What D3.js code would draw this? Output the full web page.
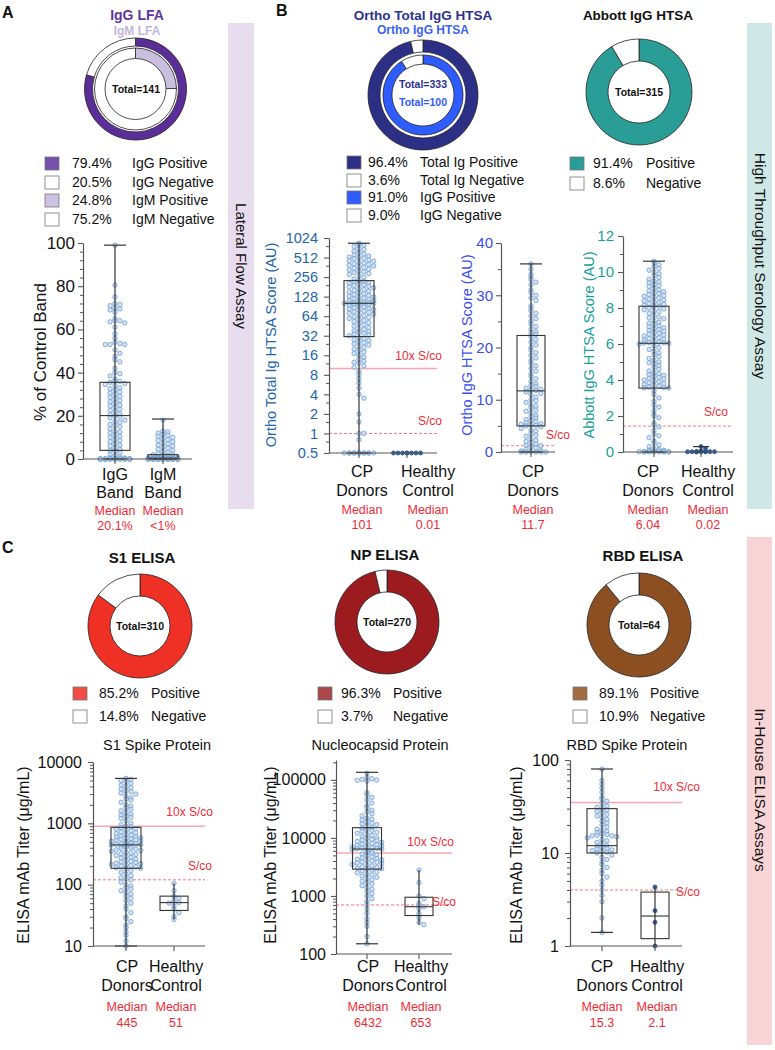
<!DOCTYPE html>
<html lang="en">
<head>
<meta charset="UTF-8">
<title>Antibody assay comparison</title>
<style>
    body { margin: 0; background: #fff; }
    text { font-family: "Liberation Sans", Arial, sans-serif; }
</style>
</head>
<body>
<svg id="fig" width="775" height="1050"></svg>
<script src="https://d3js.org/d3.v7.min.js"></script>
<script>
// ---- donut shares (%) ----
const lfaIgG = [79.4, 20.5];
const lfaIgM = [24.8, 75.2];
const orthoTotal = [96.4, 3.6];
const orthoIgG = [91.0, 9.0];
const abbottIgG = [91.4, 8.6];
const s1Elisa = [85.2, 14.8];
const npElisa = [96.3, 3.7];
const rbdElisa = [89.1, 10.9];

// ---- categories / medians ----
const lfaCats = ['IgG Band', 'IgM Band'];
const lfaMedians = ['20.1%', '<1%'];
const htsCats = ['CP Donors', 'Healthy Control'];
const orthoTotalMedians = ['101', '0.01'];
const orthoIgGCats = ['CP Donors'];
const orthoIgGMedians = ['11.7'];
const abbottMedians = ['6.04', '0.02'];
const s1Medians = ['445', '51'];
const npMedians = ['6432', '653'];
const rbdMedians = ['15.3', '2.1'];

// box stats [min, q1, median, q3, max]
const lfaBoxes = [[0, 4, 20.1, 35.5, 99], [0, 0, 0.4, 2, 18.5]];
const orthoTotalBoxes = [[0.5, 31, 101, 226, 850], null];
const orthoIgGBoxes = [[0, 5, 11.7, 22.3, 36]];
const abbottBoxes = [[0, 3.55, 6.04, 8.1, 10.6], [0, 0, 0.02, 0.04, 0.3]];
const s1Boxes = [[10, 185, 445, 860, 5400], [27, 38, 51, 65, 105]];
const npBoxes = [[150, 2900, 6432, 15000, 135000], [320, 460, 653, 950, 2800]];
const rbdBoxes = [[1.4, 10, 12, 30, 80], [1.0, 1.2, 2.1, 3.8, 4.3]];

// ---- individual samples (estimated) ----
const lfaIgGPts = [99, 80.5, 75, 72, 71.5, 71, 70, 69.5, 69, 68, 65, 64, 64, 63.5, 63, 61, 58, 56, 54, 53.5,
    53, 53, 53, 50.5, 49, 47.5, 46, 45, 42, 40, 39.5, 38.5, 37, 36, 36, 35.5, 35, 34.5, 34, 33,
    32.5, 32, 31, 30.5, 30, 29, 28.5, 28, 27, 26.5, 26, 25, 24.5, 24, 23, 22.5, 22, 21, 20.5,
    20, 19.5, 19, 18, 17.5, 17, 16, 15.5, 15, 14, 13, 12.5, 12, 11, 10.5, 10, 9, 8.5, 8, 7, 6.5, 6, 5, 4.5, 4, 3.5, 3,
    2, 1.5, 1, 0.5, 0.5, 0, 0, 0, 0, 0, 0, 0, 0, 0, 0, 0, 0, 0, 0, 0, 0, 0, 0, 0, 0, 0, 0, 0, 0, 0];
const lfaIgMPts = [18, 13, 12.5, 12, 11.5, 11, 10.5, 10, 9.5, 9, 8.5, 8, 7.5, 7, 6.5, 6, 5.5, 5, 4.5, 4, 3.5, 3, 2.5,
    2, 2, 1.5, 1.5, 1, 1, 1, 0.8, 0.6, 0.5, 0.5, 0.4, 0.3, 0.2, 0.2, 0.1, 0.1,
    0, 0, 0, 0, 0, 0, 0, 0, 0, 0, 0, 0, 0, 0, 0, 0, 0, 0, 0, 0, 0, 0, 0, 0, 0, 0, 0, 0, 0, 0,
    0, 0, 0, 0, 0, 0, 0, 0, 0, 0];
const orthoTotalCP = [850, 820, 790, 760, 700, 680, 640, 600, 580, 560, 540, 520, 510, 500, 490, 470, 460, 450, 430, 420,
    410, 400, 390, 380, 370, 360, 350, 340, 330, 320, 310, 300, 290, 280, 270, 255, 240,
    226, 220, 215, 210, 205, 200, 195, 190, 185, 180, 175, 170, 165, 160, 155, 150, 146, 142, 138, 134,
    130, 127, 124, 121, 118, 115, 112, 110, 108, 106, 104, 103, 102, 101, 101, 100, 99,
    97, 95, 93, 91, 89, 87, 85, 83, 81, 79, 77, 75, 73, 71, 69, 67, 65, 63, 61, 59, 57, 55, 53, 51, 49, 47,
    45, 43, 41, 40, 38, 37, 36, 35, 34, 33, 32,
    30, 29, 28, 27, 26, 25, 24, 23, 22, 21, 20, 19, 18, 17, 16, 15, 14, 13, 12.5, 12, 11, 10.5, 9, 8, 7, 6, 5, 4,
    3.5, 2, 1.5, 1, 1, 0.8, 0.5, 0.5, 0.5, 0.5, 0.5, 0.5, 0.5, 0.5, 0.5, 0.5, 0.5, 0.5];
const orthoTotalHC = [0.5, 0.5, 0.5, 0.5, 0.5, 0.5, 0.5, 0.5];
const orthoIgGCP = [36, 35, 34, 33.5, 33, 32.5, 32, 31, 30.5, 30, 29.5, 29, 28, 27.5, 27, 26.5, 26, 25.5, 25, 24.5,
    24, 23.5, 23, 22.8, 22.5, 22, 21.5, 21, 20.5, 20, 19.5, 19, 18.5, 18, 17.5, 17, 16.5, 16, 15.5, 15,
    14.5, 14, 13.5, 13, 12.8, 12.5, 12.2, 12, 11.9, 11.8, 11.5, 11.2, 11, 10.5, 10, 9.8, 9.5, 9, 8.8, 8.5,
    8, 7.8, 7.5, 7, 6.8, 6.5, 6.2, 6, 5.8, 5.6, 5.4, 5.3, 5.2, 5.1, 5, 4.8, 4.5, 4.2, 4, 3.5,
    3.2, 3, 2.5, 2.2, 2, 1.8, 1.5, 1.3, 1.2, 1, 0.8, 0.5, 0.3, 0.2, 0.1, 0, 0, 0, 0, 0];
const abbottCP = [10.6, 10.5, 10.4, 10.3, 10.2, 10.1, 10, 9.9, 9.8, 9.7, 9.6, 9.5, 9.45, 9.4, 9.3, 9.25, 9.2, 9.1, 9.0,
    8.95, 8.9, 8.85, 8.8, 8.75, 8.7, 8.65, 8.6, 8.55, 8.5, 8.45, 8.4, 8.35, 8.3, 8.25, 8.2, 8.15, 8.1, 8.1,
    8.0, 7.95, 7.9, 7.85, 7.8, 7.7, 7.6, 7.5, 7.45, 7.4, 7.3, 7.2, 7.15, 7.1, 7.0, 6.95, 6.9, 6.85, 6.8,
    6.75, 6.7, 6.65, 6.6, 6.55, 6.5, 6.45, 6.4, 6.35, 6.3, 6.25, 6.2, 6.15, 6.1, 6.08, 6.06, 6.05, 6.04,
    6.0, 5.9, 5.8, 5.7, 5.6, 5.5, 5.4, 5.3, 5.2, 5.1, 5.0, 4.95, 4.9, 4.8, 4.7, 4.6, 4.5, 4.4, 4.35, 4.3,
    4.25, 4.2, 4.15, 4.1, 4.05, 4.0, 3.95, 3.9, 3.85, 3.8, 3.75, 3.7, 3.65, 3.6, 3.58, 3.56, 3.55,
    3.4, 3.2, 3.0, 2.8, 2.6, 2.5, 2.3, 2.1, 2.0, 1.9, 1.6, 1.5, 1.4, 1.2, 1.0, 0.9, 0.8, 0.6, 0.5, 0.4,
    0.3, 0.2, 0.15, 0.1, 0.1, 0.05, 0.05, 0.05, 0.02, 0.02, 0.02, 0.02, 0.01, 0.01, 0.01, 0.01, 0, 0];
const abbottHC = [0.3, 0.2, 0.05, 0.04, 0.03, 0.02, 0.02, 0.02, 0.01, 0.01, 0.01, 0];
const s1CP = [5400, 5200, 5000, 4800, 4500, 4200, 4000, 3800, 3600, 3400, 3300, 3100, 3000, 2800, 2600, 2500,
    2400, 2200, 2000, 1900, 1800, 1700, 1600, 1500, 1400, 1350, 1300, 1250, 1200, 1100, 1000, 950,
    900, 880, 850, 820, 800, 780, 750, 720, 700, 680, 660, 640, 620, 600, 590, 580, 570, 560, 550, 540,
    530, 520, 510, 500, 490, 480, 470, 465, 460, 455, 450, 445,
    440, 430, 420, 410, 400, 390, 380, 370, 360, 350, 340, 330, 320, 310, 300, 290, 280, 270, 260, 250,
    240, 235, 230, 225, 220, 215, 210, 205, 200, 195, 190, 185,
    180, 170, 160, 150, 140, 130, 125, 120, 110, 100, 95, 90, 85, 80, 75, 70, 65, 60, 55, 50,
    45, 40, 35, 30, 28, 25, 22, 20, 17, 15, 12, 10];
const s1HC = [105, 80, 65, 60, 55, 51, 50, 45, 40, 35, 30, 27];
const npCP = [130000, 110000, 105000, 102000, 100000, 98000, 95000, 60000, 55000, 50000, 45000, 40000, 36000, 33000,
    30000, 28000, 26000, 24000, 22000, 21000, 20000, 19000, 18000, 17500, 17000, 16000, 15000, 14500,
    14000, 13500, 13000, 12500, 12000, 11500, 11000, 10500, 10000, 9800, 9500, 9200, 9000, 8700,
    8400, 8200, 8000, 7800, 7600, 7400, 7200, 7000, 6900, 6800, 6700, 6600, 6500, 6432,
    6300, 6100, 5900, 5700, 5500, 5300, 5100, 4900, 4700, 4500, 4400, 4300, 4200, 4100, 4000, 3900,
    3800, 3700, 3600, 3500, 3400, 3300, 3200, 3100, 3000, 2950, 2900, 2800,
    2700, 2600, 2500, 2400, 2300, 2200, 2100, 2000, 1900, 1800, 1700, 1600, 1500, 1400, 1300, 1200,
    1100, 1000, 900, 800, 700, 600, 500, 400, 350, 300, 200, 150];
const npHC = [2800, 1700, 1000, 900, 750, 680, 653, 600, 500, 420, 350, 320];
const rbdCP = [80, 60, 55, 50, 45, 40, 38, 36, 34, 32, 31, 30, 29, 28, 27, 26, 25, 24, 23, 22, 21, 20, 19, 18,
    17.5, 17, 16.5, 16, 15.8, 15.5, 15.3, 15.3, 15, 14.5, 14, 13.5, 13, 12.5, 12, 11.8, 11.5, 11.2, 11,
    10.8, 10.6, 10.4, 10.2, 10, 9.5, 9, 8.5, 8, 7.5, 7, 6.5, 6, 5.5, 5, 4.5, 4, 3.5, 3, 2, 1.4];
const rbdHC = [4.3, 2.4, 1.8, 1.0];

// cut-offs
const orthoTotalCut = [10, 1];
const orthoIgGCut = [1.2];
const abbottCut = [1.44];
const s1Cut = [900, 120];
const npCut = [5500, 700];
const rbdCut = [35, 4];

// ---------------------------------------------------------------------
const svg = d3.select('#fig');
const FONT = '"Liberation Sans", Arial, sans-serif';

function txt(x, y, s, opt = {}) {
    return svg.append('text').attr('x', x).attr('y', y).text(s)
        .attr('font-size', opt.size || 14)
        .attr('font-weight', opt.bold ? 'bold' : 'normal')
        .attr('fill', opt.color || '#111')
        .attr('text-anchor', opt.anchor || 'middle');
}

function vtxt(x, y, s, rot, opt = {}) {
    return svg.append('text').attr('transform', `translate(${x},${y}) rotate(${rot})`)
        .text(s).attr('text-anchor', 'middle')
        .attr('font-size', opt.size || 15)
        .attr('fill', opt.color || '#111');
}

function donut(cx, cy, rings) {
    const g = svg.append('g').attr('transform', `translate(${cx},${cy})`);
    rings.forEach(ring => {
        const arcs = d3.pie().sort(null)(ring.values);
        g.selectAll(null).data(arcs).enter().append('path')
            .attr('d', d3.arc().innerRadius(ring.r0).outerRadius(ring.r1))
            .attr('fill', (d, i) => i === 0 ? ring.color : '#fff')
            .attr('stroke', '#222').attr('stroke-width', 0.8);
    });
}

function legend(x, ys, items) {
    items.forEach((it, i) => {
        svg.append('rect').attr('x', x).attr('y', ys[i] - 11).attr('width', 14).attr('height', 13)
            .attr('fill', it.color).attr('stroke', '#777').attr('stroke-width', 0.8);
        txt(it.px, ys[i], it.pct, { anchor: 'start', size: 14 });
        txt(it.lx, ys[i], it.label, { anchor: 'start', size: 14 });
    });
}

// GraphPad-like dot spreading: dots in the same horizontal band are placed side by side
function spread(vals, y, cx, r, maxHalf) {
    const rows = new Map();
    const step = r * 2 + 0.5;
    const slots = Math.max(1, Math.floor(maxHalf / step));
    return vals.map(v => {
        const py = y(v);
        const k = Math.round(py / (r * 2));
        const n = rows.get(k) || 0;
        rows.set(k, n + 1);
        const m = n % (2 * slots + 1);
        const off = m === 0 ? 0 : (m % 2 ? 1 : -1) * Math.ceil(m / 2) * step;
        return [cx + off, py];
    });
}

function boxPanel(p) {
    const y = p.y;
    const pr = c => c.length === 1 ? [c[0], c[0]] : c;
    const x = d3.scalePoint().domain(p.cats).range(pr(p.centers));
    const lx = d3.scalePoint().domain(p.cats).range(pr(p.labelCenters || p.centers));
    const g = svg.append('g');
    const y0 = y.range()[0];

    // cut-off lines
    (p.cuts || []).forEach(c => {
        g.append('line').attr('x1', p.ax).attr('x2', p.xEnd).attr('y1', y(c.v)).attr('y2', y(c.v))
            .attr('stroke', c.dash ? '#f07a84' : '#f7a9af').attr('stroke-width', c.dash ? 1 : 1.5)
            .attr('stroke-dasharray', c.dash ? '3,2' : null);
        txt(c.lx, c.ly, c.label, { anchor: 'end', size: 12, color: '#ef2b36' });
    });

    // points
    p.groups.forEach((grp, i) => {
        const cx = x(p.cats[i]);
        const pts = spread(grp.vals, y, cx, grp.hc ? 2 : 2.2, grp.half || 15);
        g.selectAll(null).data(pts).enter().append('circle')
            .attr('cx', d => d[0]).attr('cy', d => d[1]).attr('r', grp.hc ? 2 : 2.2)
            .attr('fill', grp.hc ? '#2e62a6' : '#c9dcf0')
            .attr('fill-opacity', grp.hc ? 1 : 0.75)
            .attr('stroke', grp.hc ? '#1f4f8f' : '#6d9dd2').attr('stroke-width', 0.8);
    });

    // boxes and whiskers
    p.groups.forEach((grp, i) => {
        const b = grp.box;
        if (!b) return;
        const cx = x(p.cats[i]);
        const hw = grp.bw || 15, cw = grp.cw || 11;
        g.append('line').attr('x1', cx).attr('x2', cx).attr('y1', y(b[0])).attr('y2', y(b[4]))
            .attr('stroke', '#333').attr('stroke-width', 1.2);
        [b[0], b[4]].forEach(v => g.append('line').attr('x1', cx - cw).attr('x2', cx + cw)
            .attr('y1', y(v)).attr('y2', y(v)).attr('stroke', '#333').attr('stroke-width', 1.2));
        if (grp.noBox) return;
        g.append('rect').attr('x', cx - hw).attr('width', hw * 2)
            .attr('y', y(b[3])).attr('height', y(b[1]) - y(b[3]))
            .attr('fill', 'none').attr('stroke', '#333').attr('stroke-width', 1.1);
        g.append('line').attr('x1', cx - hw).attr('x2', cx + hw).attr('y1', y(b[2])).attr('y2', y(b[2]))
            .attr('stroke', '#333').attr('stroke-width', 1.1);
    });

    // y axis
    const ax = g.append('g').attr('transform', `translate(${p.ax},0)`)
        .call(d3.axisLeft(y).tickValues(p.major).tickFormat(p.fmt || (d => d))
            .tickSizeInner(5).tickSizeOuter(0).tickPadding(p.pad || 3));
    ax.select('.domain').attr('stroke', '#555').attr('stroke-width', 1.2);
    ax.selectAll('.tick line').attr('stroke', '#555').attr('stroke-width', 1.1);
    ax.selectAll('.tick text').attr('fill', p.tickColor || '#111')
        .attr('font-size', p.tickSize || 16).attr('font-family', FONT);
    if (p.minor) {
        const mi = g.append('g').attr('transform', `translate(${p.ax},0)`)
            .call(d3.axisLeft(y).tickValues(p.minor).tickFormat('').tickSize(3));
        mi.select('.domain').remove();
        mi.selectAll('.tick line').attr('stroke', '#555');
    }
    // x axis
    g.append('line').attr('x1', p.ax).attr('x2', p.xEnd).attr('y1', y0).attr('y2', y0)
        .attr('stroke', '#555').attr('stroke-width', 1.2);
    p.cats.forEach(c => g.append('line').attr('x1', x(c)).attr('x2', x(c)).attr('y1', y0).attr('y2', y0 + 5)
        .attr('stroke', '#555').attr('stroke-width', 1.1));

    // y title
    vtxt(p.yLab[0], p.yLab[1], p.yTitle, -90, { size: p.yTitleSize || 15, color: p.tickColor || '#111' });

    // category labels + medians
    p.cats.forEach((c, i) => {
        const words = c.split(' ');
        txt(lx(c), p.catY[0], words[0], { size: 16 });
        txt(lx(c), p.catY[1], words[1], { size: 16 });
        txt(lx(c), p.medY[0], 'Median', { size: 12.5, color: '#ef2b36' });
        txt(lx(c), p.medY[1], p.medians[i], { size: 12.5, color: '#ef2b36' });
    });
}

const log10Minor = (lo, hi) => {
    const out = [];
    for (let e = lo; e < hi; e++) for (let k = 2; k <= 9; k++) out.push(k * Math.pow(10, e));
    return out;
};

// ---------------- side strips ----------------
svg.append('rect').attr('x', 228).attr('y', 23).attr('width', 26).attr('height', 486).attr('fill', '#e7ddee');
svg.append('rect').attr('x', 747).attr('y', 23).attr('width', 25).attr('height', 486).attr('fill', '#cfe8e6');
svg.append('rect').attr('x', 747).attr('y', 537).attr('width', 25).attr('height', 508).attr('fill', '#f9d4d7');
vtxt(236, 266, 'Lateral Flow Assay', 90, { size: 15 });
vtxt(755, 266, 'High Throughput Serology Assay', 90, { size: 15.5 });
vtxt(755, 790, 'In-House ELISA Assays', 90, { size: 15.5 });

// panel letters
txt(2, 18, 'A', { anchor: 'start', bold: true, size: 16 });
txt(276, 16, 'B', { anchor: 'start', bold: true, size: 16 });
txt(2, 553, 'C', { anchor: 'start', bold: true, size: 16 });

// ---------------- Panel A ----------------
txt(137, 20, 'IgG LFA', { bold: true, size: 14, color: '#6034a4' });
txt(137, 34.5, 'IgM LFA', { bold: true, size: 12, color: '#c3b6de' });
donut(135.5, 89, [
    { values: lfaIgG, color: '#5b2d98', r0: 43, r1: 51 },
    { values: lfaIgM, color: '#cbbfe0', r0: 30.5, r1: 41 }
]);
txt(136, 93, 'Total=141', { bold: true, size: 10.5 });
legend(45, [168, 187, 205, 224], [
    { color: '#7650ad', label: 'IgG Positive', v: lfaIgG[0] },
    { color: '#fff', label: 'IgG Negative', v: lfaIgG[1] },
    { color: '#cdc2e3', label: 'IgM Positive', v: lfaIgM[0] },
    { color: '#fff', label: 'IgM Negative', v: lfaIgM[1] }
].map(d => ({ ...d, pct: d.v.toFixed(1) + '%', px: 72, lx: 132 })));

boxPanel({
    y: d3.scaleLinear().domain([0, 100]).range([459, 243]),
    cats: lfaCats, centers: [115, 163], ax: 83, xEnd: 192,
    major: [0, 20, 40, 60, 80, 100], minor: d3.range(4, 100, 4).filter(v => v % 20),
    tickSize: 17, pad: 3, yTitle: '% of Control Band', yLab: [46, 352], yTitleSize: 17,
    groups: [{ vals: lfaIgGPts, box: lfaBoxes[0] }, { vals: lfaIgMPts, box: lfaBoxes[1] }],
    catY: [480, 498], medY: [515, 530], medians: lfaMedians
});

// ---------------- Panel B ----------------
txt(423, 20, 'Ortho Total IgG HTSA', { bold: true, size: 13.5, color: '#2d3190' });
txt(423, 34, 'Ortho IgG HTSA', { bold: true, size: 12, color: '#3c62f4' });
donut(423, 95, [
    { values: orthoTotal, color: '#2c2f86', r0: 43, r1: 55 },
    { values: orthoIgG, color: '#2e5cff', r0: 31, r1: 40 }
]);
txt(423, 88, 'Total=333', { bold: true, size: 10.5, color: '#2d3190' });
txt(423, 106, 'Total=100', { bold: true, size: 10.5, color: '#2e5cff' });
legend(347, [167, 185, 202, 220], [
    { color: '#2c2f86', pct: orthoTotal[0].toFixed(1) + '%', label: 'Total Ig Positive', px: 368, lx: 420 },
    { color: '#fff', pct: orthoTotal[1].toFixed(1) + '%', label: 'Total Ig Negative', px: 368, lx: 420 },
    { color: '#2e5cff', pct: orthoIgG[0].toFixed(1) + '%', label: 'IgG Positive', px: 368, lx: 420 },
    { color: '#fff', pct: orthoIgG[1].toFixed(1) + '%', label: 'IgG Negative', px: 368, lx: 420 }
]);

txt(638, 20, 'Abbott IgG HTSA', { bold: true, size: 13.5 });
donut(639, 92, [{ values: abbottIgG, color: '#2a9d97', r0: 31, r1: 53 }]);
txt(639, 96, 'Total=315', { bold: true, size: 10.5 });
legend(570, [168, 188], [
    { color: '#2a9d97', pct: abbottIgG[0].toFixed(1) + '%', label: 'Positive', px: 593, lx: 646 },
    { color: '#fff', pct: abbottIgG[1].toFixed(1) + '%', label: 'Negative', px: 593, lx: 646 }
]);

boxPanel({
    y: d3.scaleLog().base(2).domain([0.5, 1024]).range([453, 238]),
    cats: htsCats, centers: [359, 407], labelCenters: [362, 428], ax: 329, xEnd: 437,
    major: [0.5, 1, 2, 4, 8, 16, 32, 64, 128, 256, 512, 1024],
    minor: [0.75, 1.5, 3, 6, 12, 24, 48, 96, 192, 384, 768],
    tickColor: '#2166ac', tickSize: 14.5, pad: 6,
    yTitle: 'Ortho Total Ig HTSA Score (AU)', yLab: [276, 345], yTitleSize: 14.5,
    cuts: [{ v: orthoTotalCut[0], label: '10x S/co', lx: 442, ly: 360 },
           { v: orthoTotalCut[1], dash: true, label: 'S/co', lx: 442, ly: 425 }],
    groups: [{ vals: orthoTotalCP, box: orthoTotalBoxes[0] }, { vals: orthoTotalHC, hc: true, half: 16 }],
    catY: [477, 496], medY: [514, 529], medians: orthoTotalMedians
});

boxPanel({
    y: d3.scaleLinear().domain([0, 40]).range([452, 243]),
    cats: orthoIgGCats, centers: [531], labelCenters: [533], ax: 501, xEnd: 555,
    major: [0, 10, 20, 30, 40], minor: [5, 15, 25, 35],
    tickColor: '#3a4ff2', tickSize: 15, pad: 3,
    yTitle: 'Ortho IgG HTSA Score (AU)', yLab: [472, 345], yTitleSize: 14.5,
    cuts: [{ v: orthoIgGCut[0], dash: true, label: 'S/co', lx: 570, ly: 439 }],
    groups: [{ vals: orthoIgGCP, box: orthoIgGBoxes[0], bw: 14 }],
    catY: [477, 496], medY: [514, 529], medians: orthoIgGMedians
});

boxPanel({
    y: d3.scaleLinear().domain([0, 12]).range([452, 236]),
    cats: htsCats, centers: [654, 701], labelCenters: [648, 708], ax: 623, xEnd: 733,
    major: [0, 2, 4, 6, 8, 10, 12], minor: [1, 3, 5, 7, 9, 11],
    tickColor: '#17a19a', tickSize: 15, pad: 4,
    yTitle: 'Abbott IgG HTSA Score (AU)', yLab: [594, 345], yTitleSize: 14.5,
    cuts: [{ v: abbottCut[0], dash: true, label: 'S/co', lx: 728, ly: 416 }],
    groups: [{ vals: abbottCP, box: abbottBoxes[0] }, { vals: abbottHC, box: abbottBoxes[1], hc: true, noBox: true, cw: 8 }],
    catY: [477, 496], medY: [514, 529], medians: abbottMedians
});

// ---------------- Panel C ----------------
const elisa = [
    { title: 'S1 ELISA', tx: 142, ty: 563, share: s1Elisa, color: '#ee3124', leg: '#ef4d45', cx: 140, cy: 626,
      total: 'Total=310', sq: 73, px: 99, lx: 151, sub: 'S1 Spike Protein', subX: 157 },
    { title: 'NP ELISA', tx: 385, ty: 560, share: npElisa, color: '#9b1b1f', leg: '#a9474a', cx: 387, cy: 622,
      total: 'Total=270', sq: 318, px: 341, lx: 393, sub: 'Nucleocapsid Protein', subX: 380 },
    { title: 'RBD ELISA', tx: 643, ty: 561, share: rbdElisa, color: '#8b4f22', leg: '#a26b41', cx: 639, cy: 625,
      total: 'Total=64', sq: 573, px: 599, lx: 650, sub: 'RBD Spike Protein', subX: 627 }
];
elisa.forEach(e => {
    txt(e.tx, e.ty, e.title, { bold: true, size: 15 });
    donut(e.cx, e.cy, [{ values: e.share, color: e.color, r0: 30, r1: 52 }]);
    txt(e.cx, e.cy + 4, e.total, { bold: true, size: 10.5 });
    legend(e.sq, [698, 721], [
        { color: e.leg, pct: e.share[0].toFixed(1) + '%', label: 'Positive', px: e.px, lx: e.lx },
        { color: '#fff', pct: e.share[1].toFixed(1) + '%', label: 'Negative', px: e.px, lx: e.lx }
    ]);
    txt(e.subX, 750, e.sub, { size: 14.5 });
});

boxPanel({
    y: d3.scaleLog().domain([10, 10000]).range([946, 762]),
    cats: htsCats, centers: [126, 174], labelCenters: [127, 176], ax: 93, xEnd: 205,
    major: [10, 100, 1000, 10000], minor: log10Minor(1, 4), fmt: d3.format('d'),
    tickSize: 16, pad: 6, yTitle: 'ELISA mAb Titer (μg/mL)', yLab: [29, 855], yTitleSize: 16,
    cuts: [{ v: s1Cut[0], label: '10x S/co', lx: 213, ly: 816 },
           { v: s1Cut[1], dash: true, label: 'S/co', lx: 212, ly: 870 }],
    groups: [{ vals: s1CP, box: s1Boxes[0] }, { vals: s1HC, box: s1Boxes[1], bw: 14, cw: 0.01 }],
    catY: [972, 991], medY: [1011, 1027], medians: s1Medians
});

boxPanel({
    y: d3.scaleLog().domain([100, 220000]).range([954, 760]),
    cats: htsCats, centers: [367, 419], labelCenters: [368, 421], ax: 336, xEnd: 452,
    major: [100, 1000, 10000, 100000], minor: log10Minor(2, 5).concat([200000]), fmt: d3.format('d'),
    tickSize: 16, pad: 5, yTitle: 'ELISA mAb Titer (μg/mL)', yLab: [276, 855], yTitleSize: 16,
    cuts: [{ v: npCut[0], label: '10x S/co', lx: 454, ly: 846 },
           { v: npCut[1], dash: true, label: 'S/co', lx: 456, ly: 906 }],
    groups: [{ vals: npCP, box: npBoxes[0], bw: 14.5 }, { vals: npHC, box: npBoxes[1], bw: 14, cw: 0.01 }],
    catY: [972, 991], medY: [1011, 1027], medians: npMedians
});

boxPanel({
    y: d3.scaleLog().domain([1, 100]).range([946, 760]),
    cats: htsCats, centers: [602, 655], labelCenters: [602, 657], ax: 570, xEnd: 682,
    major: [1, 10, 100], minor: log10Minor(0, 2), fmt: d3.format('d'),
    tickSize: 16, pad: 6, yTitle: 'ELISA mAb Titer (μg/mL)', yLab: [522, 855], yTitleSize: 16,
    cuts: [{ v: rbdCut[0], label: '10x S/co', lx: 700, ly: 791 },
           { v: rbdCut[1], dash: true, label: 'S/co', lx: 700, ly: 896 }],
    groups: [{ vals: rbdCP, box: rbdBoxes[0] }, { vals: rbdHC, box: rbdBoxes[1], hc: true, bw: 14, cw: 0.01 }],
    catY: [972, 991], medY: [1011, 1027], medians: rbdMedians
});
</script>
</body>
</html>
